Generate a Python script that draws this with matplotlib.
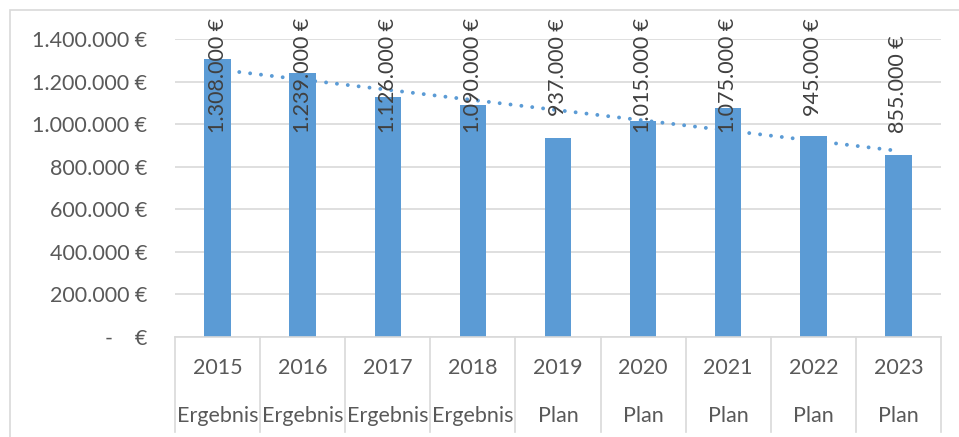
import matplotlib.pyplot as plt
import numpy as np
from matplotlib.patches import Rectangle
import matplotlib.transforms as mtransforms

years = ['2015', '2016', '2017', '2018', '2019', '2020', '2021', '2022', '2023']
kind = ['Ergebnis', 'Ergebnis', 'Ergebnis', 'Ergebnis', 'Plan', 'Plan', 'Plan', 'Plan', 'Plan']
values = [1308000, 1239000, 1126000, 1090000, 937000, 1015000, 1075000, 945000, 855000]

blue = '#5B9BD5'
grey_txt = '#595959'
grid_c = '#D9D9D9'

plt.rcParams['font.family'] = ['Lato', 'DejaVu Sans']

def euro(v):
    if v == 0:
        return '-    €'
    return f'{int(v):,}'.replace(',', '.') + ' €'

fig = plt.figure(figsize=(9.59, 4.37), dpi=100)
# chart area border
fig.patches.append(Rectangle((10 / 959, -0.1), 1.1, 0.977 + 0.1, transform=fig.transFigure,
                             fill=False, edgecolor=grid_c, linewidth=1.2))
ax = fig.add_axes([175 / 959, 1 - 337 / 437, (941 - 175) / 959, (337 - 39) / 437])

x = np.arange(len(years))
ax.bar(x, values, width=0.31, color=blue, zorder=2)

# linear trendline
k, d = np.polyfit(x + 1, values, 1)
ax.plot(x, k * (x + 1) + d, color=blue, linewidth=2.8,
        linestyle=(0, (0.01, 2.8)), dash_capstyle='round', zorder=3)

ax.set_xlim(-0.5, len(years) - 0.5)
ax.set_ylim(0, 1400000)
ax.set_yticks(np.arange(0, 1400001, 200000))
ax.set_yticklabels([euro(v) for v in ax.get_yticks()], fontsize=15.5, color=grey_txt)
ax.tick_params(axis='y', length=0, pad=20)
ax.set_xticks([])
ax.grid(axis='y', color=grid_c, linewidth=1.2, zorder=0)
ax.set_axisbelow(True)
for s in ax.spines.values():
    s.set_visible(False)

# category axis with two levels
trans = mtransforms.blended_transform_factory(ax.transData, ax.transAxes)
ax.plot([-0.5, len(years) - 0.5], [0, 0], transform=trans, color=grid_c,
        linewidth=1.2, clip_on=False)
for b in np.arange(-0.5, len(years), 1.0):
    ax.plot([b, b], [0, -0.32], transform=trans, color=grid_c, linewidth=1.2, clip_on=False)
for i in x:
    ax.text(i, -0.104, years[i], transform=trans, ha='center', va='center',
            fontsize=15.5, color=grey_txt)
    ax.text(i, -0.265, kind[i], transform=trans, ha='center', va='center',
            fontsize=15.5, color=grey_txt)

# data labels, kept inside the chart area
labels = []
for i in x:
    t = ax.annotate(euro(values[i]), xy=(i, values[i]), xytext=(0, 16),
                    textcoords='offset points', rotation=90, ha='center', va='bottom',
                    fontsize=15.5, color='#404040', zorder=4, annotation_clip=False)
    labels.append(t)

fig.canvas.draw()
r = fig.canvas.get_renderer()
limit = fig.bbox.height - 18
for t in labels:
    bb = t.get_window_extent(r)
    if bb.y1 > limit:
        over = bb.y1 - limit
        t.set_position((0, 16 - over * 72 / fig.dpi))

fig.savefig('out.png', dpi=100)
